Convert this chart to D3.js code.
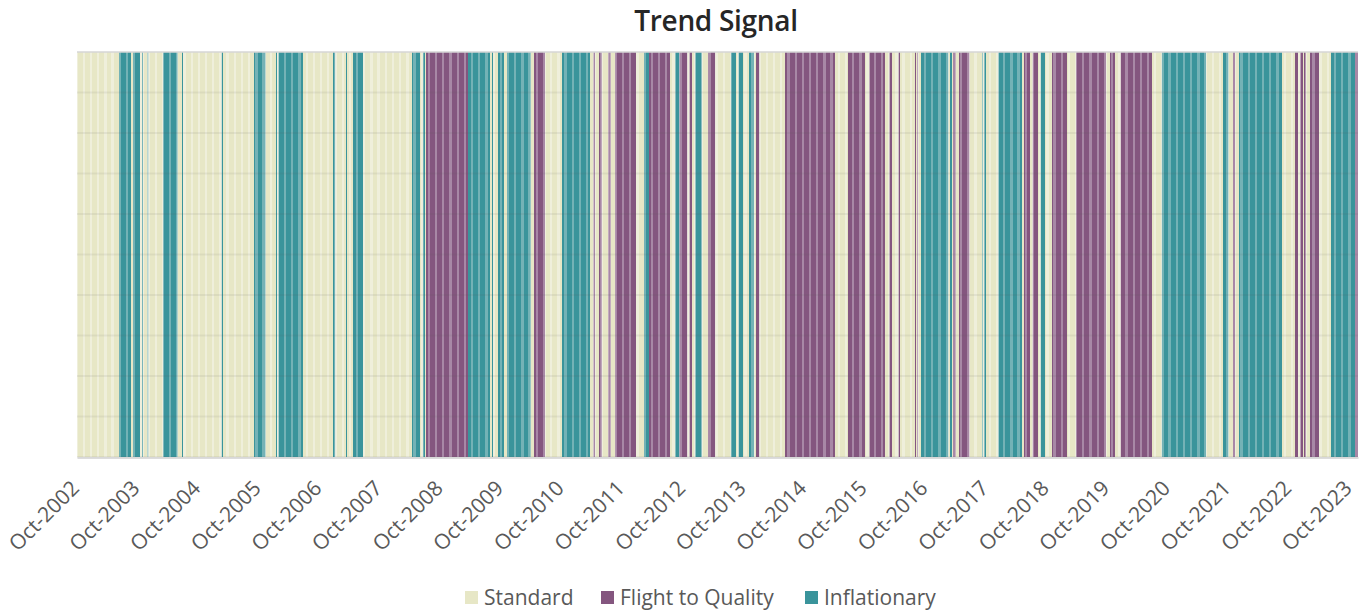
<!DOCTYPE html>
<html>
<head>
<meta charset="utf-8">
<script src="https://cdn.jsdelivr.net/npm/d3@7"></script>
<style>
  body { margin: 0; background: #fff; }
  #chart { width: 1361px; height: 610px; }
  text { font-family: "Open Sans", Lato, sans-serif; }
</style>
</head>
<body>
<div id="chart"></div>
<script>
// regime signal, one entry per change (start date + regime code)
var segStart = [
  "2002-10-01","2003-06-10","2003-08-22","2003-09-01","2003-10-16","2003-10-28","2003-11-03","2003-11-30","2003-12-06","2004-03-03",
  "2004-05-30","2004-06-25","2004-07-01","2005-02-19","2005-02-26","2005-08-31","2005-11-11","2006-01-13","2006-01-19","2006-01-27",
  "2006-06-20","2006-12-24","2007-01-05","2007-03-05","2007-03-15","2007-04-16","2007-06-19","2008-04-13","2008-05-26","2008-06-16",
  "2008-06-25","2008-07-03","2009-03-12","2009-07-25","2009-08-06","2009-08-12","2009-09-13","2009-10-13","2009-11-03","2010-03-28",
  "2010-04-17","2010-06-22","2010-10-01","2011-03-16","2011-04-10","2011-04-20","2011-05-14","2011-05-30","2011-07-08","2011-07-23",
  "2011-08-18","2011-12-22","2012-02-08","2012-03-10","2012-07-10","2012-08-14","2012-09-09","2012-10-27","2012-11-08","2012-11-23",
  "2012-12-13","2013-01-22","2013-02-28","2013-04-13","2013-07-16","2013-08-17","2013-08-31","2013-09-24","2013-11-03","2013-12-03",
  "2013-12-15","2014-01-04","2014-06-08","2015-03-31","2015-06-21","2015-10-02","2015-10-28","2016-01-31","2016-02-26","2016-03-12",
  "2016-04-21","2016-04-27","2016-07-30","2016-08-05","2016-08-12","2016-08-18","2016-09-04","2017-02-16","2017-02-26","2017-03-08",
  "2017-03-14","2017-04-01","2017-04-17","2017-06-23","2017-09-05","2017-09-11","2017-09-19","2017-10-01","2017-12-14","2018-05-05",
  "2018-05-19","2018-06-19","2018-07-09","2018-08-12","2018-08-26","2018-09-17","2018-11-02","2019-01-30","2019-03-27","2019-09-24",
  "2019-10-14","2019-11-17","2019-12-21","2020-06-26","2020-08-25","2021-05-19","2021-08-28","2021-10-01","2021-10-27","2021-11-10",
  "2021-11-30","2022-08-18","2022-11-01","2022-11-21","2022-12-07","2022-12-21","2022-12-31","2023-01-10","2023-02-05","2023-03-27",
  "2023-06-10","2023-11-02"
];
var segRegime = [
  "S","I","S","I","S","I","S","I","S","I",
  "S","I","S","I","S","I","S","I","S","I",
  "S","I","S","I","S","I","S","I","S","I",
  "S","F","I","S","I","S","I","S","I","S",
  "F","S","I","S","F","S","F","S","F","S",
  "F","S","I","F","S","I","F","S","F","S",
  "I","S","F","S","I","S","I","S","I","S",
  "F","S","F","S","F","S","F","S","F","S",
  "F","S","F","S","F","S","I","S","I","S",
  "F","S","F","S","I","S","I","S","I","S",
  "F","S","F","S","I","S","F","S","F","S",
  "F","S","F","S","I","S","I","S","F","S",
  "I","S","F","S","F","S","F","S","F","S",
  "I","F"
];
var endDate = "2023-11-20";

var regimeCodes = ["S", "F", "I"];
var regimeNames = ["Standard", "Flight to Quality", "Inflationary"];
var tickDates = ["2002-10-01","2003-10-01","2004-10-01","2005-10-01","2006-10-01","2007-10-01","2008-10-01",
  "2009-10-01","2010-10-01","2011-10-01","2012-10-01","2013-10-01","2014-10-01","2015-10-01","2016-10-01",
  "2017-10-01","2018-10-01","2019-10-01","2020-10-01","2021-10-01","2022-10-01","2023-10-01"];
var gridValues = [0, 0.1, 0.2, 0.3, 0.4, 0.5, 0.6, 0.7, 0.8, 0.9, 1];

var barColor = { S: "#e7e7c6", F: "#84567f", I: "#3a949b" };
var baseColor = { S: "#efefdb", F: "#a888a6", I: "#74b2b6" };

drawChart(1361, 610);

function drawChart(width, height) {
    var parse = d3.timeParse("%Y-%m-%d");
    var svg = d3.select("#chart").append("svg")
        .attr("width", width).attr("height", height);

    var segs = segStart.map(function(s, i) {
        return { start: parse(s), end: parse(i + 1 < segStart.length ? segStart[i + 1] : endDate), r: segRegime[i] };
    });

    var x = d3.scaleTime()
        .domain([parse(segStart[0]), parse(endDate)])
        .range([77, 1358]);
    var y = d3.scaleLinear().domain([0, 1]).range([457, 52]);

    // title
    svg.append("text")
        .attr("x", 716).attr("y", 31)
        .attr("text-anchor", "middle")
        .style("font-size", "28px").style("font-weight", "600")
        .style("letter-spacing", "-0.3px")
        .style("fill", "#262626")
        .text("Trend Signal");

    // lighter base per segment
    svg.append("g").selectAll("rect")
        .data(segs).enter().append("rect")
        .attr("x", function(d){ return x(d.start); })
        .attr("width", function(d){ return x(d.end) - x(d.start); })
        .attr("y", y(1)).attr("height", y(0) - y(1))
        .style("fill", function(d){ return baseColor[d.r]; });

    // weekly bars give the striped look
    var weeks = [];
    segs.forEach(function(s) {
        d3.timeWeek.range(s.start, s.end).forEach(function(w) {
            weeks.push({ t: w, r: s.r, end: s.end });
        });
    });
    svg.append("g").attr("shape-rendering", "crispEdges").selectAll("rect")
        .data(weeks).enter().append("rect")
        .attr("x", function(d){ return x(d.t); })
        .attr("width", function(d){
            var nx = x(d3.min([d3.timeWeek.offset(d.t, 1), d.end]));
            return Math.max(0.6, (nx - x(d.t)) * 0.68);
        })
        .attr("y", y(1)).attr("height", y(0) - y(1))
        .style("fill", function(d){ return barColor[d.r]; });

    // gridlines on top, faint
    svg.append("g").selectAll("line")
        .data(gridValues).enter().append("line")
        .attr("x1", 77).attr("x2", 1358)
        .attr("y1", function(d){ return y(d); })
        .attr("y2", function(d){ return y(d); })
        .style("stroke", function(d){ return d == 1 ? "#d6d6d6" : "rgba(90,90,90,0.09)"; })
        .style("stroke-width", function(d){ return d == 1 ? 1.5 : 2; });

    // x axis
    var xAxis = svg.append("g").attr("transform", "translate(0," + 457.5 + ")")
        .call(d3.axisBottom(x).tickValues(tickDates.map(parse)).tickSize(0)
            .tickFormat(d3.timeFormat("%b-%Y")));
    xAxis.select(".domain").style("stroke", "#d0d0d0").style("stroke-width", 1.5);
    xAxis.selectAll("text")
        .attr("text-anchor", "end")
        .attr("x", 0).attr("y", 0).attr("dy", 0)
        .attr("transform", "translate(3,32) rotate(-45)")
        .style("font-family", "'Open Sans', sans-serif")
        .style("font-size", "21px")
        .style("fill", "#595959");

    // legend
    var legX = [465, 601, 805];
    var leg = svg.append("g").selectAll("g")
        .data(regimeCodes).enter().append("g")
        .attr("transform", function(d, i){ return "translate(" + legX[i] + ",591)"; });
    leg.append("rect").attr("width", 13).attr("height", 13)
        .style("fill", function(d){ return barColor[d]; });
    leg.append("text").attr("x", 19).attr("y", 13.5)
        .style("font-size", "21px").style("fill", "#595959")
        .text(function(d, i){ return regimeNames[i]; });
}
</script>
</body>
</html>
